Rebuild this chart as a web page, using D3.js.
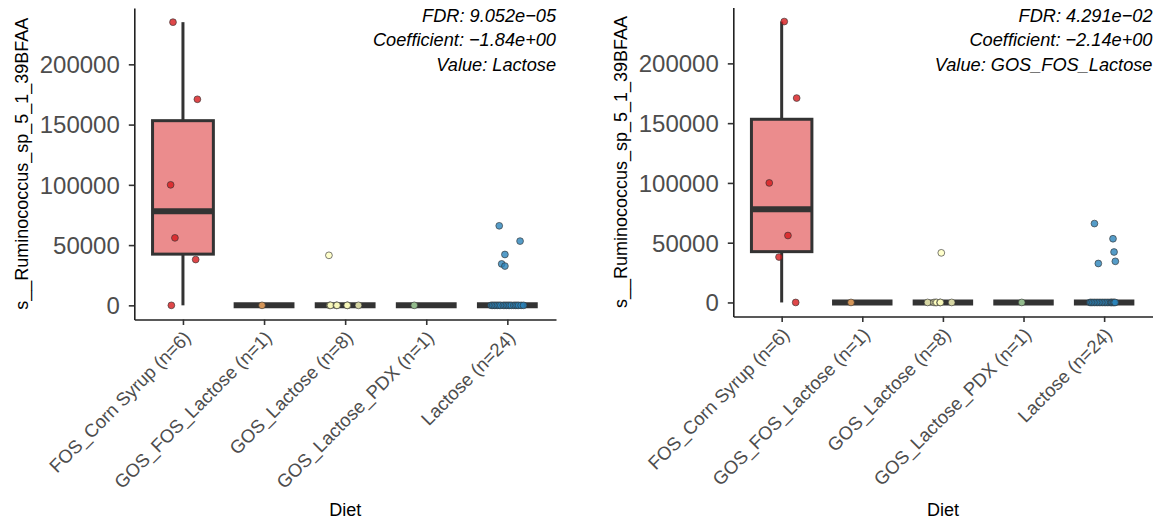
<!DOCTYPE html>
<html>
<head>
<meta charset="utf-8">
<script src="https://cdn.jsdelivr.net/npm/d3@7"></script>
<style>
  body { margin: 0; background: #fff; }
  svg { display: block; font-family: 'Liberation Sans', Arial, sans-serif; }
</style>
</head>
<body>
<div id="chart"></div>
<script>
// diet groups on the x axis
var diets = ['FOS_Corn Syrup', 'GOS_FOS_Lactose', 'GOS_Lactose', 'GOS_Lactose_PDX', 'Lactose'];

// abundance of s__Ruminococcus_sp_5_1_39BFAA per sample, per diet
var fosCornSyrupValues = [235000, 171000, 100000, 56000, 38000, 0];
var gosFosLactoseValues = [0];
var gosLactoseValues = [41500, 0, 0, 0, 0, 0, 0, 0];
var gosLactosePdxValues = [0];
var lactoseValues = [66000, 53300, 42200, 34400, 32600,
  0, 0, 0, 0, 0, 0, 0, 0, 0, 0, 0, 0, 0, 0, 0, 0, 0, 0, 0];

var yTicks = [0, 50000, 100000, 150000, 200000];

// jitter offsets (in category steps), one per sample
var jitterLeft = [
  [-0.123, 0.178, -0.152, -0.099, 0.157, -0.143],
  [-0.025],
  [-0.2, -0.19, -0.18, -0.107, -0.1, 0.03, 0.025, 0.164],
  [-0.148],
  [-0.1, 0.157, -0.03, -0.07, -0.03,
    -0.2, -0.18, -0.16, -0.14, -0.12, -0.1, -0.08, -0.05, -0.03, -0.01,
    0.01, 0.03, 0.05, 0.08, 0.1, 0.12, 0.14, 0.17, 0.2]
];
var jitterRight = [
  [0.032, 0.186, -0.154, 0.078, -0.033, 0.174],
  [-0.14],
  [-0.02, -0.19, -0.11, -0.09, -0.077, -0.036, -0.03, 0.109],
  [-0.022],
  [-0.12, 0.11, 0.123, 0.139, -0.072,
    -0.175, -0.16, -0.14, -0.12, -0.1, -0.08, -0.06, -0.04, -0.02, 0,
    0.02, 0.04, 0.06, 0.08, 0.09, 0.1, 0.115, 0.125, 0.137]
];

// statistics shown in the top right corner of each panel
var annotLeft = ['FDR: 9.052e\u221205', 'Coefficient: \u22121.84e+00', 'Value: Lactose'];
var annotRight = ['FDR: 4.291e\u221202', 'Coefficient: \u22122.14e+00', 'Value: GOS_FOS_Lactose'];

var groupValues = [fosCornSyrupValues, gosFosLactoseValues, gosLactoseValues, gosLactosePdxValues, lactoseValues];

// Spectral palette, 5 classes
var palette = ['#d7191c', '#fdae61', '#ffffbf', '#abdda4', '#2b83ba'];

var width = 1167;
var height = 527;

var svg = d3.select('#chart').append('svg')
  .attr('width', width).attr('height', height);

// box statistics (ggplot style, type 7 quantiles)
function boxStats(values) {
  var s = values.slice().sort(d3.ascending);
  var q1 = d3.quantile(s, 0.25);
  var med = d3.quantile(s, 0.5);
  var q3 = d3.quantile(s, 0.75);
  var iqr = q3 - q1;
  var lo = d3.min(s.filter(function(v) { return v >= q1 - 1.5 * iqr; }));
  var hi = d3.max(s.filter(function(v) { return v <= q3 + 1.5 * iqr; }));
  return { q1: q1, med: med, q3: q3, lo: lo, hi: hi };
}

function drawPanel(p) {
  var labels = diets.map(function(d, i) {
    return d + ' (n=' + groupValues[i].length + ')';
  });

  var all = d3.merge(groupValues);
  var ext = d3.extent(all);
  var pad = (ext[1] - ext[0]) * 0.05;

  var x = d3.scalePoint().domain(labels).range([p.left, p.right]).padding(0.6);
  var y = d3.scaleLinear().domain([ext[0] - pad, ext[1] + pad]).range([p.bottom, p.top]);
  var step = x.step();
  var boxW = step * 0.75;

  var g = svg.append('g');

  // boxes
  var boxes = g.selectAll('.box').data(groupValues).enter()
    .append('g').attr('class', 'box');

  boxes.each(function(vals, i) {
    var st = boxStats(vals);
    var cx = x(labels[i]);
    var b = d3.select(this);
    b.append('line')
      .attr('x1', cx).attr('x2', cx)
      .attr('y1', y(st.q3)).attr('y2', y(st.hi))
      .attr('stroke', '#333').attr('stroke-width', 3);
    b.append('line')
      .attr('x1', cx).attr('x2', cx)
      .attr('y1', y(st.q1)).attr('y2', y(st.lo))
      .attr('stroke', '#333').attr('stroke-width', 3);
    b.append('rect')
      .attr('x', cx - boxW / 2).attr('width', boxW)
      .attr('y', y(st.q3)).attr('height', y(st.q1) - y(st.q3))
      .attr('fill', palette[i]).attr('fill-opacity', 0.5)
      .attr('stroke', '#333').attr('stroke-width', 3);
    b.append('line')
      .attr('x1', cx - boxW / 2).attr('x2', cx + boxW / 2)
      .attr('y1', y(st.med)).attr('y2', y(st.med))
      .attr('stroke', '#333').attr('stroke-width', 6);
  });

  // jittered points
  groupValues.forEach(function(vals, i) {
    g.selectAll(null).data(vals).enter()
      .append('circle')
      .attr('cx', function(d, j) { return x(labels[i]) + p.jitter[i][j] * step; })
      .attr('cy', function(d) { return y(d); })
      .attr('r', 3.4)
      .attr('fill', palette[i]).attr('fill-opacity', 0.8)
      .attr('stroke', '#333').attr('stroke-opacity', 0.8).attr('stroke-width', 0.8);
  });

  // y axis
  var yAxis = g.append('g')
    .attr('transform', 'translate(' + p.left + ',0)')
    .call(d3.axisLeft(y).tickValues(yTicks).tickFormat(d3.format('d'))
      .tickSize(5.5).tickSizeOuter(0).tickPadding(9));
  yAxis.select('.domain').attr('stroke', '#222').attr('stroke-width', 1.6);
  yAxis.selectAll('.tick line').attr('stroke', '#333').attr('stroke-width', 1.6);
  yAxis.selectAll('.tick text')
    .attr('fill', '#4d4d4d').style('font-size', '24px').attr('dy', '0.35em');

  // x axis
  var xAxis = g.append('g')
    .attr('transform', 'translate(0,' + p.bottom + ')')
    .call(d3.axisBottom(x).tickSize(5.5).tickSizeOuter(0));
  xAxis.select('.domain').attr('stroke', '#222').attr('stroke-width', 1.6);
  xAxis.selectAll('.tick line').attr('stroke', '#333').attr('stroke-width', 1.6);
  xAxis.selectAll('.tick text')
    .attr('fill', '#4d4d4d').style('font-size', '18.5px')
    .attr('text-anchor', 'end')
    .attr('y', 0).attr('dy', '0.72em')
    .attr('transform', 'translate(-1,10) rotate(-45)');

  // axis titles
  g.append('text')
    .attr('x', (p.left + p.right) / 2).attr('y', 516)
    .attr('text-anchor', 'middle').style('font-size', '18px')
    .text('Diet');
  g.append('text')
    .attr('transform', 'translate(' + (p.left - 106) + ',' + ((p.top + p.bottom) / 2) + ') rotate(-90)')
    .attr('text-anchor', 'middle').style('font-size', '18px')
    .text('s__Ruminococcus_sp_5_1_39BFAA');

  // annotation
  g.selectAll('.annot').data(p.annot).enter()
    .append('text')
    .attr('x', p.right)
    .attr('y', function(d, i) { return 21.7 + i * 24.5; })
    .attr('text-anchor', 'end')
    .style('font-size', '18.2px').style('font-style', 'italic')
    .text(function(d) { return d; });
}

drawPanel({ left: 134.3, right: 556, top: 8, bottom: 319.5, jitter: jitterLeft, annot: annotLeft });
drawPanel({ left: 733.3, right: 1152.5, top: 7.5, bottom: 316.5, jitter: jitterRight, annot: annotRight });
</script>
</body>
</html>
